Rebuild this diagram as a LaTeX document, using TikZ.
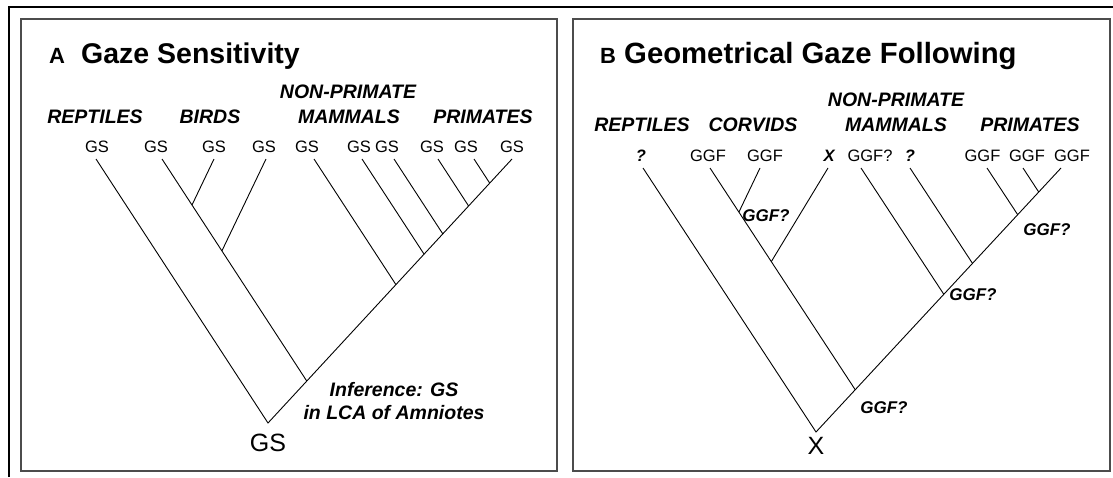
\documentclass[tikz,border=0pt]{standalone}
\usepackage{fontspec}
\setmainfont{Liberation Sans}
\begin{document}
\begin{tikzpicture}[x=1pt,y=-1pt,
  tip/.style={font=\fontsize{16.5}{18}\selectfont, inner sep=0pt, anchor=base},
  tipb/.style={font=\bfseries\itshape\fontsize{16.5}{18}\selectfont, inner sep=0pt, anchor=base},
  grp/.style={font=\bfseries\itshape\fontsize{19.5}{21}\selectfont, inner sep=0pt, anchor=base},
  note/.style={font=\bfseries\itshape\fontsize{17}{19}\selectfont, inner sep=0pt, anchor=base},
  rootlab/.style={font=\fontsize{25}{27}\selectfont, inner sep=0pt, anchor=base},
  letter/.style={font=\bfseries\fontsize{22}{24}\selectfont, inner sep=0pt, anchor=base west},
  ttl/.style={font=\bfseries\fontsize{28.5}{30}\selectfont, inner sep=0pt, anchor=base west},
  ttlb/.style={font=\bfseries\fontsize{29.3}{31}\selectfont, inner sep=0pt, anchor=base west},
  br/.style={line width=0.9pt, black},
  panel/.style={draw=black!70, line width=1.6pt},
  outer/.style={draw=black, line width=1.2pt}]
\useasboundingbox (0,0) rectangle (1113,477);
% frames
\draw[outer] (9,477) -- (9,7) -- (1113,7);
\draw[panel] (21,19) rectangle (557,471);
\draw[panel] (573,19) rectangle (1110,471);

% ================= Panel A =================
\node[letter] (tA) at (49,63) {A};
\node[ttl] (tAt) at (81,63) {Gaze Sensitivity};

\node[grp] (gA1) at (95,123) {REPTILES};
\node[grp] (gA2) at (210,123) {BIRDS};
\node[grp] (gA3) at (348,98) {NON-PRIMATE};
\node[grp] (gA4) at (349,123) {MAMMALS};
\node[grp] (gA5) at (483,123) {PRIMATES};

\foreach \i/\x in {1/97,2/156,3/214,4/264,5/307,6/359,7/387,8/432,9/466,10/512}
  \node[tip] (lA\i) at (\x,152) {GS};

\coordinate (rA) at (268,423);
\coordinate (tA1) at (96,159);
\coordinate (tA2) at (162,159);
\coordinate (tA3) at (214,159);
\coordinate (tA4) at (266,159);
\coordinate (tA5) at (314,159);
\coordinate (tA6) at (362,159);
\coordinate (tA7) at (394,159);
\coordinate (tA8) at (438,159);
\coordinate (tA9) at (474,159);
\coordinate (tA10) at (512,159);
\coordinate (jAb) at (306.8,381.1);
\coordinate (jA3) at (192,205);
\coordinate (jA4) at (221.9,250.9);
\coordinate (jA5) at (395.9,284.6);
\coordinate (jA6) at (424.1,254.2);
\coordinate (jA7) at (442.8,233.9);
\coordinate (jA8) at (468.6,206);
\coordinate (jA9) at (489.7,183.1);

\draw[br] (tA1) -- (rA) -- (tA10);
\draw[br] (tA2) -- (jAb);
\draw[br] (tA3) -- (jA3);
\draw[br] (tA4) -- (jA4);
\draw[br] (tA5) -- (jA5);
\draw[br] (tA6) -- (jA6);
\draw[br] (tA7) -- (jA7);
\draw[br] (tA8) -- (jA8);
\draw[br] (tA9) -- (jA9);

\node[rootlab] (rAl) at (268,451) {GS};
\node[grp] (infA1) at (394,396) {Inference: GS};
\node[grp] (infA2) at (394,419) {in LCA of Amniotes};

% ================= Panel B =================
\node[letter] (tB) at (600,63) {B};
\node[ttlb] (tBt) at (624,63) {Geometrical Gaze Following};

\node[grp] (gB1) at (642,131) {REPTILES};
\node[grp] (gB2) at (753,131) {CORVIDS};
\node[grp] (gB3) at (896,106) {NON-PRIMATE};
\node[grp] (gB4) at (896,131) {MAMMALS};
\node[grp] (gB5) at (1030,131) {PRIMATES};

\node[tipb] (lB1) at (641,161) {?};
\node[tip] (lB2) at (708,161) {GGF};
\node[tip] (lB3) at (765,161) {GGF};
\node[tipb] (lB4) at (829,161) {X};
\node[tip] (lB5) at (870,161) {GGF?};
\node[tipb] (lB6) at (910,161) {?};
\node[tip] (lB7) at (982.5,161) {GGF};
\node[tip] (lB8) at (1027,161) {GGF};
\node[tip] (lB9) at (1072,161) {GGF};

\coordinate (rB) at (816,432);
\coordinate (tB1) at (643,168);
\coordinate (tB2) at (710,168);
\coordinate (tB3) at (760,168);
\coordinate (tB4) at (828,168);
\coordinate (tB5) at (861,168);
\coordinate (tB6) at (910,168);
\coordinate (tB7) at (987,168);
\coordinate (tB8) at (1023,168);
\coordinate (tB9) at (1061,168);
\coordinate (jBc) at (855.2,389.7);
\coordinate (jB3) at (738.9,212.1);
\coordinate (jB4) at (771.3,261.6);
\coordinate (jB5) at (943.8,294.3);
\coordinate (jB6) at (972.5,263.4);
\coordinate (jB7) at (1017.7,214.7);
\coordinate (jB8) at (1038.7,192);

\draw[br] (tB1) -- (rB) -- (tB9);
\draw[br] (tB2) -- (jBc);
\draw[br] (tB3) -- (jB3);
\draw[br] (tB4) -- (jB4);
\draw[br] (tB5) -- (jB5);
\draw[br] (tB6) -- (jB6);
\draw[br] (tB7) -- (jB7);
\draw[br] (tB8) -- (jB8);

\node[rootlab] (rBl) at (816,454) {X};
\node[note] (nB1) at (766,221) {GGF?};
\node[note] (nB2) at (1047,235) {GGF?};
\node[note] (nB3) at (973,300) {GGF?};
\node[note] (nB4) at (884,413) {GGF?};
\end{tikzpicture}
\end{document}
